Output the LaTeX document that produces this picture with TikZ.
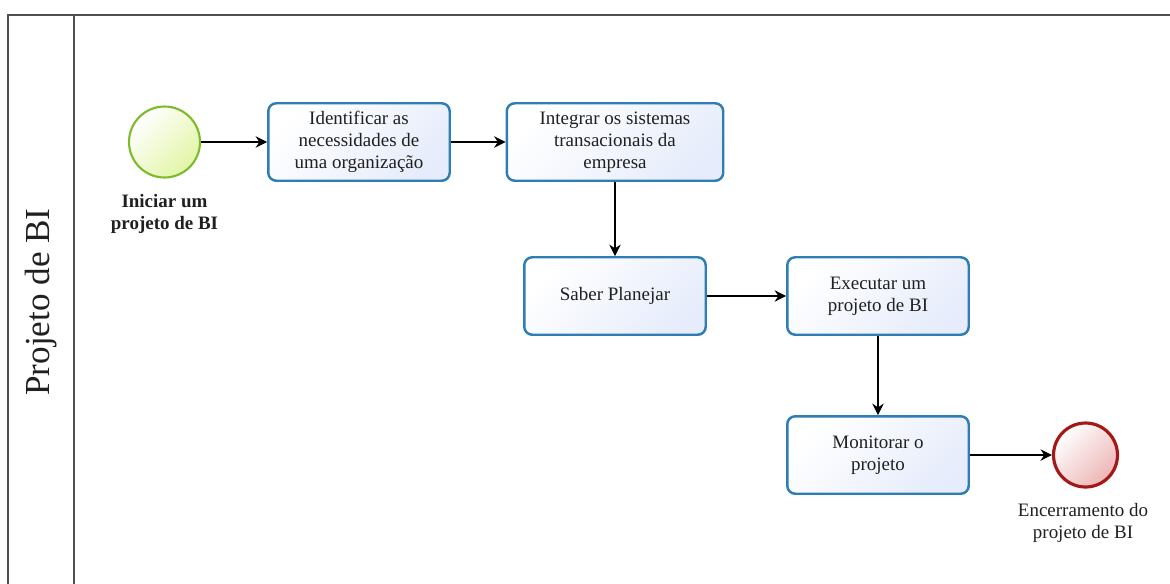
\documentclass[tikz,border=0pt]{standalone}
\usepackage{fontspec}
\setmainfont{Liberation Serif}
\usetikzlibrary{arrows.meta}

\definecolor{taskblue}{HTML}{2E7EB5}
\definecolor{taskfill}{HTML}{E6ECFB}
\definecolor{startgreen}{HTML}{7DBB2A}
\definecolor{startfill}{HTML}{E2F5A6}
\definecolor{endred}{HTML}{A51818}
\definecolor{endfill}{HTML}{EDB5B5}
\definecolor{poolgray}{HTML}{505050}
\definecolor{txtgray}{HTML}{202020}

\tikzset{
  task/.style={draw=taskblue, line width=1.4pt, rounded corners=0.16cm,
    top color=white, bottom color=taskfill, shading angle=45,
    minimum width=3.63cm, minimum height=1.55cm, align=center, inner sep=2pt,
    text=txtgray, font=\fontsize{10.8}{12.6}\selectfont},
  startev/.style={circle, draw=startgreen, line width=1.2pt,
    top color=white, bottom color=startfill, shading angle=45,
    minimum size=1.42cm, inner sep=0pt},
  endev/.style={circle, draw=endred, line width=1.8pt,
    top color=white, bottom color=endfill, shading angle=45,
    minimum size=1.28cm, inner sep=0pt},
  evlabel/.style={align=center, text=txtgray, font=\fontsize{10.8}{12.6}\selectfont},
  flow/.style={-{Stealth[length=6.5pt,width=6.5pt]}, line width=0.6pt, black}
}

\begin{document}
\begin{tikzpicture}[x=0.02cm,y=-0.02cm]
\useasboundingbox (0,0) rectangle (1170,583);
\clip (0,0) rectangle (1170,583);

% pool and lane
\draw[poolgray, line width=0.8pt] (8,15) rectangle (1220,640);
\draw[poolgray, line width=0.8pt] (74,15) -- (74,640);
\node[rotate=90, text=txtgray, font=\fontsize{20}{24}\selectfont] (lane) at (41,302) {Projeto de BI};

% events
\node[startev] (inicio) at (164.5,142) {};
\node[evlabel, font=\fontsize{10.8}{12.6}\selectfont\bfseries] (iniciolbl) at (164.5,213.5) {Iniciar um\\projeto de BI};
\node[endev] (fim) at (1085.5,455) {};
\node[evlabel] (fimlbl) at (1083,522.5) {Encerramento do\\projeto de BI};

% tasks
\node[task] (identificar) at (359,142) {Identificar as\\necessidades de\\uma organização};
\node[task, minimum width=4.33cm] (integrar) at (615,142) {Integrar os sistemas\\transacionais da\\empresa};
\node[task] (planejar) at (615,296) {Saber Planejar};
\node[task] (executar) at (878,296) {Executar um\\projeto de BI};
\node[task] (monitorar) at (878,455) {Monitorar o\\projeto};

% flows
\draw[flow] (inicio) -- (identificar);
\draw[flow] (identificar) -- (integrar);
\draw[flow] (integrar) -- (planejar);
\draw[flow] (planejar) -- (executar);
\draw[flow] (executar) -- (monitorar);
\draw[flow] (monitorar) -- (fim);
\end{tikzpicture}
\end{document}
